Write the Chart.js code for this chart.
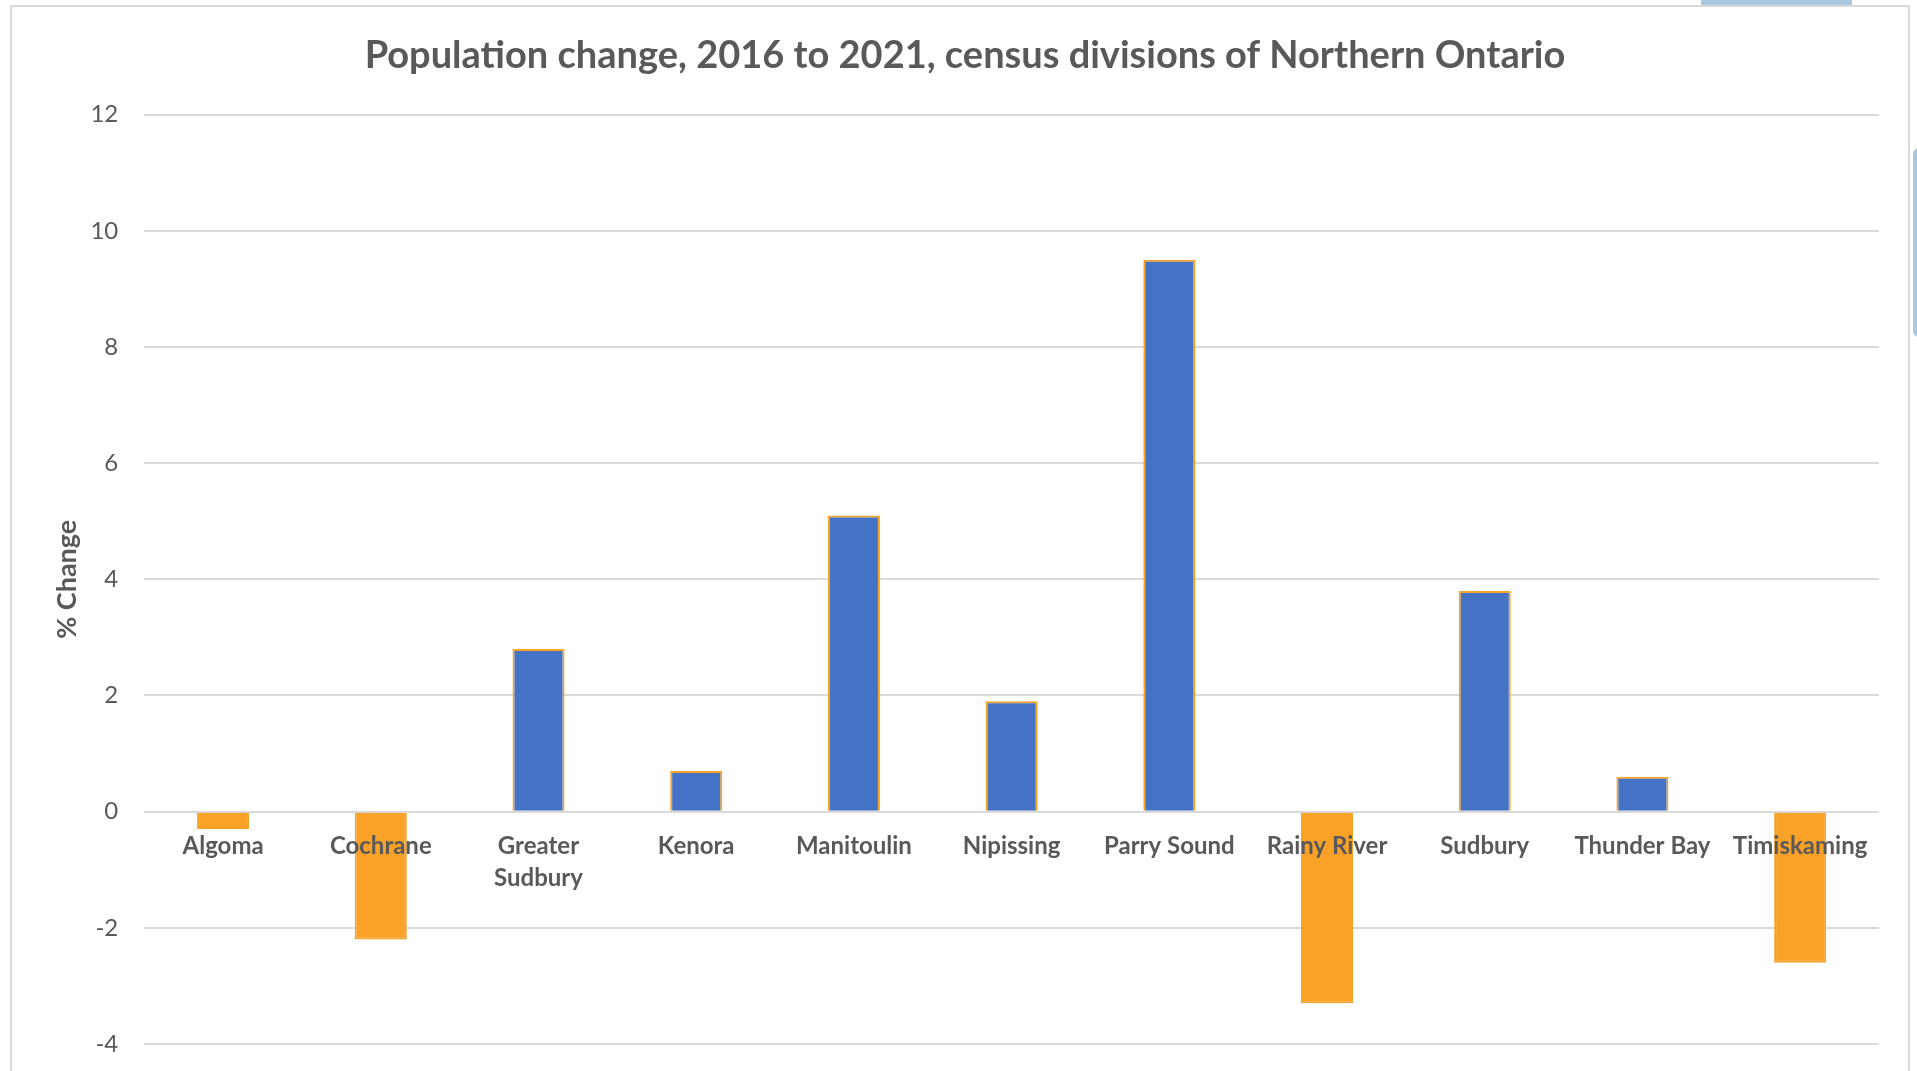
<!DOCTYPE html>
<html>
<head>
<meta charset="utf-8">
<script src="https://cdn.jsdelivr.net/npm/chart.js@4/dist/chart.umd.min.js"></script>
<style>
    html, body { margin: 0; padding: 0; background: #fff; overflow: hidden; }
    .page { position: relative; width: 1917px; height: 1071px; }
    .frame { position: absolute; left: 10px; top: 5px; width: 1900px; height: 1080px; border: 2px solid #d9d9d9; box-sizing: border-box; }
    .tab-top { position: absolute; left: 1701px; top: 0; width: 151px; height: 5px; background: #a9c8e0; }
    .tab-side { position: absolute; left: 1913px; top: 148px; width: 12px; height: 189px; background: #a9c8e0; border-radius: 8px; }
    .chart { position: absolute; left: 0; top: 0; width: 1917px; height: 1071px; }
</style>
</head>
<body>
<div class="page">
    <div class="tab-top"></div>
    <div class="tab-side"></div>
    <div class="frame"></div>
    <div class="chart">
        <canvas id="popChart"></canvas>
    </div>
</div>

<script>
    // values
    const divisions = [
        "Algoma", "Cochrane", ["Greater", "Sudbury"], "Kenora", "Manitoulin",
        "Nipissing", "Parry Sound", "Rainy River", "Sudbury", "Thunder Bay", "Timiskaming"
    ];
    const pctChange = [-0.3, -2.2, 2.8, 0.7, 5.1, 1.9, 9.5, -3.3, 3.8, 0.6, -2.6];
    const yTicks = [-4, -2, 0, 2, 4, 6, 8, 10, 12];

    const blue = "#4472c4";
    const orange = "#faa227";
    const grey = "#595959";

    new Chart(document.getElementById("popChart"), {
        type: "bar",
        data: {
            labels: divisions,
            datasets: [{
                label: "% Change",
                data: pctChange,
                backgroundColor: ctx => ctx.raw < 0 ? orange : blue,
                borderColor: orange,
                borderWidth: 2,
                barPercentage: 0.33,
                categoryPercentage: 1
            }]
        },
        options: {
            responsive: true,
            maintainAspectRatio: false,
            animation: false,
            layout: {
                padding: { left: 51, right: 38, top: 25, bottom: 27 }
            },
            plugins: {
                legend: { display: false },
                tooltip: { enabled: false },
                title: {
                    display: true,
                    text: "Population change, 2016 to 2021, census divisions of Northern Ontario",
                    color: grey,
                    font: { family: "Lato", size: 38, weight: "bold", lineHeight: 1.2 },
                    padding: { top: 8, bottom: 36 }
                }
            },
            scales: {
                x: {
                    position: { y: 0 },
                    grid: { display: false, drawTicks: false },
                    border: { display: false },
                    ticks: {
                        z: 1,
                        color: grey,
                        font: { family: "Lato", size: 24, weight: "bold", lineHeight: 1.33 },
                        padding: 19,
                        maxRotation: 0,
                        autoSkip: false
                    }
                },
                y: {
                    min: -4,
                    max: 12,
                    afterBuildTicks: axis => {
                        axis.ticks = yTicks.map(v => ({ value: v }));
                    },
                    // invisible tick marks keep the gap to the labels without extra vertical padding
                    grid: { color: "#d9d9d9", lineWidth: 2, drawTicks: true, tickLength: 14, tickColor: "transparent" },
                    border: { display: false },
                    ticks: {
                        color: grey,
                        font: { family: "Lato", size: 24 },
                        padding: 12
                    },
                    title: {
                        display: true,
                        text: "% Change",
                        color: grey,
                        font: { family: "Lato", size: 27, weight: "bold", lineHeight: 1.2 },
                        padding: { top: 0, bottom: -5 }
                    }
                }
            }
        }
    });
</script>
</body>
</html>
